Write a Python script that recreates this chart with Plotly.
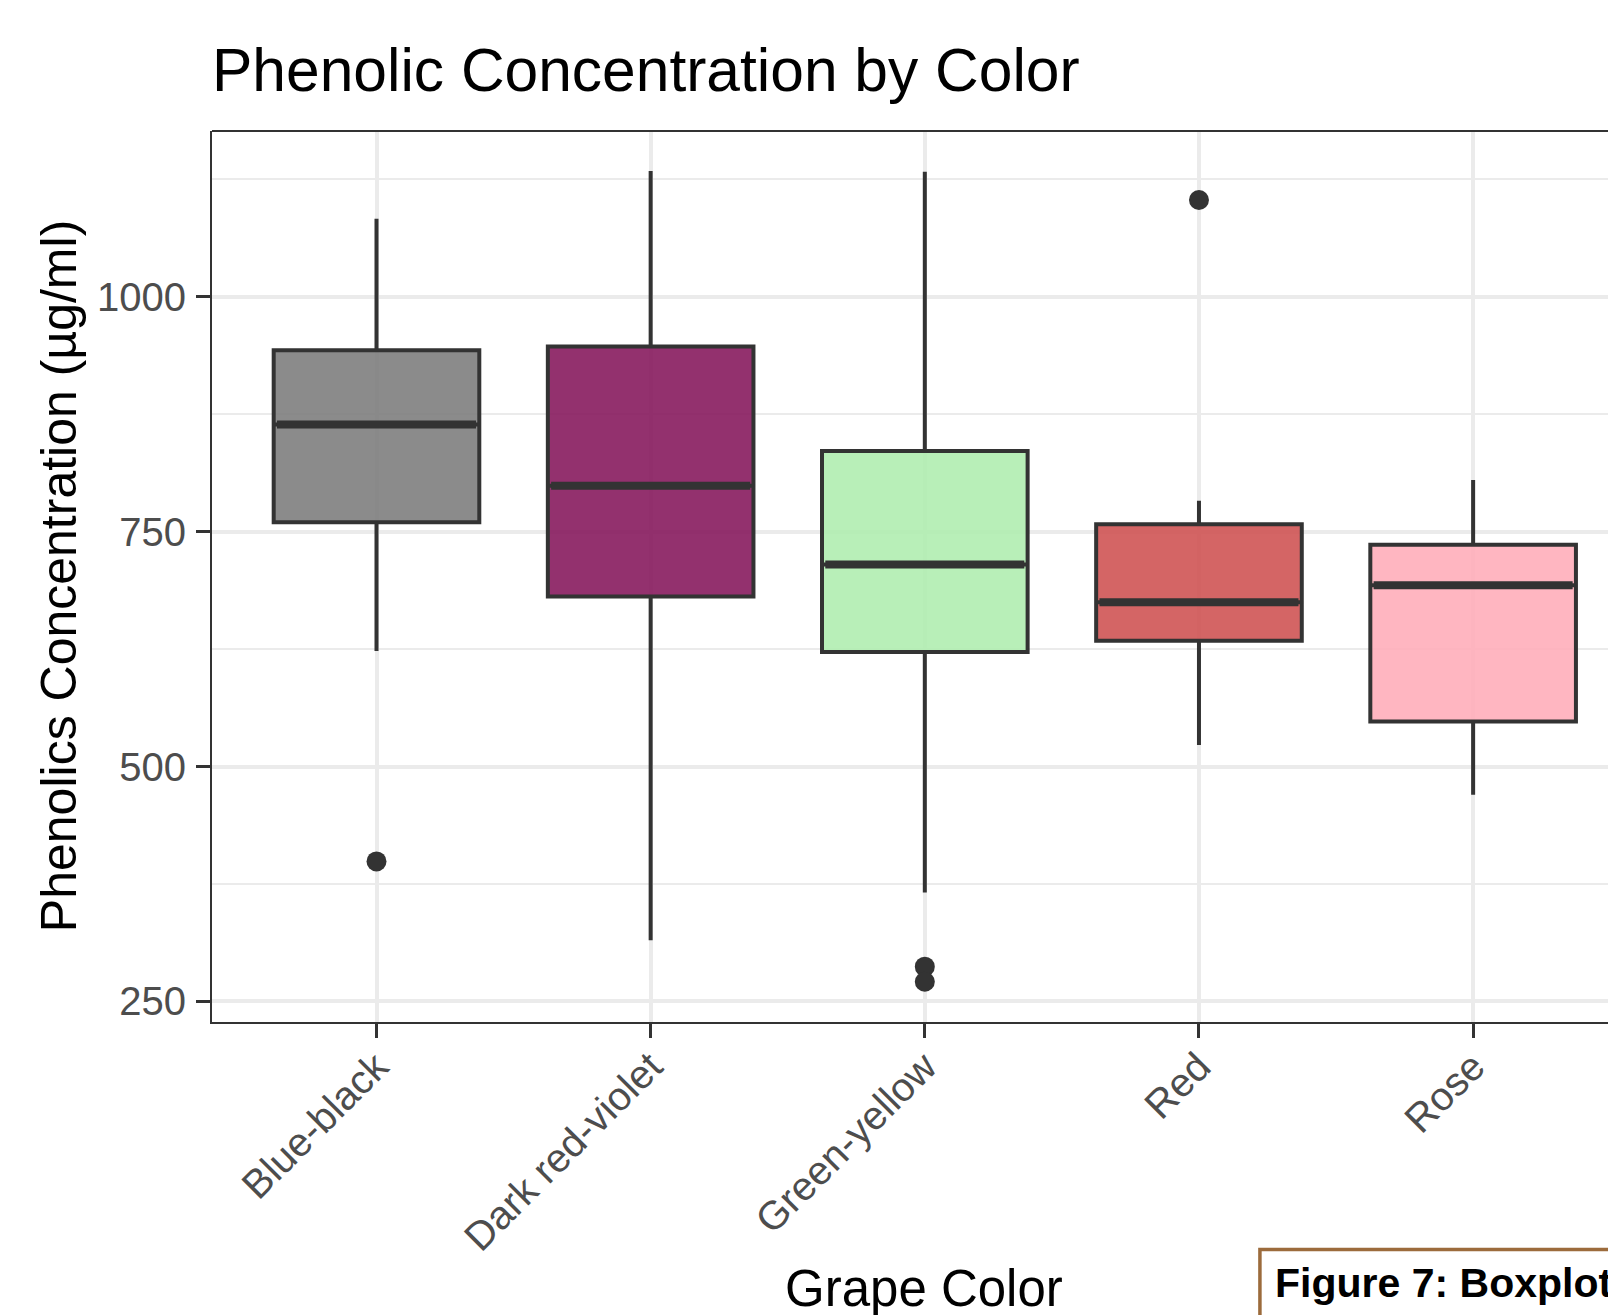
import plotly.graph_objects as go

categories = ["Blue-black", "Dark red-violet", "Green-yellow", "Red", "Rose"]
q1 = [760, 681, 622, 634, 548]
median = [864, 799, 715, 675, 693]
q3 = [943, 947, 836, 758, 736]
lower_whisker = [623, 315, 366, 523, 470]
upper_whisker = [1083, 1134, 1133, 783, 805]
outlier_cat = [0, 2, 2, 3]
outlier_val = [399, 287, 271, 1103]
fill_colors = ["rgba(126,126,126,0.9)", "rgba(135,27,94,0.9)", "rgba(176,237,176,0.9)",
               "rgba(207,84,84,0.9)", "rgba(255,174,186,0.9)"]
y_ticks = [250, 500, 750, 1000]

FONT = "Liberation Sans, Arial, sans-serif"
DARK = "#333333"
BOXW = 0.75

fig = go.Figure()
for i, cat in enumerate(categories):
    fig.add_trace(go.Box(
        x=[i], q1=[q1[i]], median=[median[i]], q3=[q3[i]],
        lowerfence=[lower_whisker[i]], upperfence=[upper_whisker[i]],
        width=BOXW, boxpoints=False, whiskerwidth=0,
        fillcolor=fill_colors[i], line=dict(color=DARK, width=4),
        name=cat, showlegend=False))
    fig.add_trace(go.Scatter(
        x=[i - BOXW / 2 + 0.012, i + BOXW / 2 - 0.012], y=[median[i], median[i]],
        mode="lines", line=dict(color=DARK, width=8), showlegend=False, hoverinfo="skip"))

fig.add_trace(go.Scatter(
    x=outlier_cat, y=outlier_val, mode="markers",
    marker=dict(color=DARK, size=20), showlegend=False))

# page body has an 8px margin: work in screen coordinates and convert
OFF = 8
W, H = 1608, 1307
L = 212.3 - OFF
T = 130.9 - OFF
BOT = 1022.4 - OFF
R = 0
B = H - BOT
pw = W - L - R
ph = H - T - B
px_per_cat = 274.1
last_cat_px = L + 0.6 * px_per_cat + 4 * px_per_cat
x_right = 4 + (W - last_cat_px) / px_per_cat

fig.update_layout(
    width=W, height=H,
    margin=dict(l=L, r=R, t=T, b=B, pad=0),
    paper_bgcolor="white", plot_bgcolor="white",
    font=dict(family=FONT),
    xaxis=dict(
        range=[-0.6, x_right], tickmode="array", tickvals=list(range(len(categories))),
        ticktext=categories, tickangle=-45,
        tickfont=dict(size=40, color="#4D4D4D"),
        showgrid=True, gridcolor="#EBEBEB", gridwidth=3.5,
        showline=True, linecolor=DARK, linewidth=2.2,
        ticks="outside", ticklen=14, tickwidth=3, tickcolor=DARK,
        ticklabelstandoff=-11,
        zeroline=False),
    yaxis=dict(
        range=[228.1, 1176.5], tickmode="array", tickvals=y_ticks,
        ticktext=[str(v) for v in y_ticks],
        tickfont=dict(size=40, color="#4D4D4D"),
        showgrid=True, gridcolor="#EBEBEB", gridwidth=3.5,
        minor=dict(showgrid=True, gridcolor="#EBEBEB", gridwidth=1.8, tickvals=[375, 625, 875, 1125]),
        showline=True, linecolor=DARK, linewidth=2.2,
        ticks="outside", ticklen=14, tickwidth=3, tickcolor=DARK,
        ticklabelstandoff=2,
        zeroline=False),
)

# top border of panel
fig.add_shape(type="line", xref="paper", yref="paper", x0=0, x1=1, y0=1, y1=1,
              line=dict(color=DARK, width=2.2))

def px_x(p):  # screen px -> paper
    return (p - OFF - L) / pw

def px_y(p):
    return (H - B - (p - OFF)) / ph

# Title
fig.add_annotation(text="Phenolic Concentration by Color", xref="paper", yref="paper",
                   x=px_x(210), y=px_y(70), xanchor="left", yanchor="middle",
                   showarrow=False, font=dict(size=60.5, color="black", family=FONT))
# Axis titles
fig.add_annotation(text="Grape Color", xref="paper", yref="paper",
                   x=px_x(924.5), y=px_y(1289), xanchor="center", yanchor="middle",
                   showarrow=False, font=dict(size=51, color="black", family=FONT))
fig.add_annotation(text="Phenolics Concentration (µg/ml)", xref="paper", yref="paper",
                   x=px_x(59), y=0.5, xanchor="center", yanchor="middle", textangle=-90,
                   showarrow=False, font=dict(size=50, color="black", family=FONT))

# Caption box
fig.add_shape(type="rect", xref="paper", yref="paper",
              x0=px_x(1260), x1=px_x(1760), y0=px_y(1250), y1=px_y(1420),
              line=dict(color="#9C6B3C", width=3.5), fillcolor="white", layer="above")
fig.add_annotation(text="<b>Figure 7: Boxplot</b>", xref="paper", yref="paper",
                   x=px_x(1273), y=px_y(1284), xanchor="left", yanchor="middle",
                   showarrow=False, font=dict(size=41, color="black", family=FONT))

fig.write_html("out.html")
